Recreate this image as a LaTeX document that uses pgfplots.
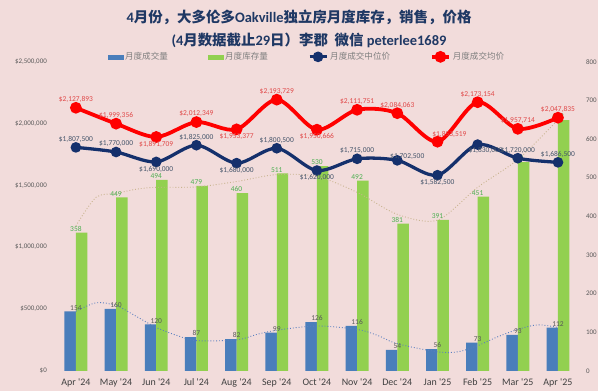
\documentclass[border=0pt]{standalone}
\usepackage{fontspec}
\usepackage{pgfplots}
\pgfplotsset{compat=1.18}
\setmainfont{Carlito}
\newfontfamily\cjk{Noto Sans CJK SC}
\definecolor{bg}{HTML}{F2DCDB}
\definecolor{barblue}{HTML}{4A7EBB}
\definecolor{bargreen}{HTML}{92D050}
\definecolor{navy}{HTML}{15306C}
\definecolor{lred}{HTML}{FF0000}
\definecolor{titleblue}{HTML}{1F3864}
\definecolor{tickgrey}{HTML}{595959}
\definecolor{catgrey}{HTML}{404040}
\definecolor{redlab}{HTML}{E04848}
\definecolor{navylab}{HTML}{44546A}
\definecolor{greenlab}{HTML}{4CAF50}
\definecolor{trendtan}{HTML}{C9B48F}
\definecolor{trendblue}{HTML}{5B7FC0}
\definecolor{legendgrey}{HTML}{7F7F7F}
\tikzset{lab/.style={font=\fontsize{7.5}{7.5}\selectfont, inner sep=1pt}}
\pgfplotsset{
  geom/.style={at={(56pt,20pt)}, anchor=south west, scale only axis,
    width=524pt, height=310pt, xmin=-0.5, xmax=12.5,
    axis line style={draw=none}, tick style={draw=none}, clip=false,
    /pgf/number format/assume math mode=true},
}
\begin{document}
\begin{tikzpicture}[x=1pt,y=1pt]
\fill[bg] (0,0) rectangle (600,392);
\node[font=\fontsize{14.5}{16}\selectfont\bfseries, text=titleblue] at (300,375)
  {4{\cjk 月份，大多伦多}Oakville{\cjk 独立房月度库存，销售，价格}};
\node[font=\fontsize{14.5}{16}\selectfont\bfseries, text=titleblue] at (310,351)
  {(4{\cjk 月数据截止}29{\cjk 日）李郡\ \ 微信} peterlee1689};

\begin{axis}[geom, ymin=0, ymax=800,
  axis y line*=right, axis x line*=bottom,
  xtick={0,...,12},
  xticklabels={Apr \textquotesingle24, May \textquotesingle24, Jun \textquotesingle24, Jul \textquotesingle24, Aug \textquotesingle24, Sep \textquotesingle24, Oct \textquotesingle24, Nov \textquotesingle24, Dec \textquotesingle24, Jan \textquotesingle25, Feb \textquotesingle25, Mar \textquotesingle25, Apr \textquotesingle25},
  xticklabel style={font=\fontsize{10}{10}\selectfont, text=catgrey, yshift=-4pt},
  ytick={0,100,...,800},
  yticklabel style={font=\fontsize{7}{7}\selectfont, text=tickgrey, anchor=west, xshift=4.5pt},
]
\addplot[ybar, bar width=11.5pt, bar shift=-5.75pt, fill=barblue, draw=none,
  nodes near coords, every node near coord/.append style={lab, text=tickgrey}]
  coordinates {(0,154)(1,160)(2,120)(3,87)(4,82)(5,99)(6,126)(7,116)(8,54)(9,56)(10,73)(11,93)(12,112)};
\addplot[ybar, bar width=11.5pt, bar shift=5.75pt, fill=bargreen, draw=none,
  nodes near coords, every node near coord/.append style={lab, text=greenlab}]
  coordinates {(0,358)(1,449)(2,494)(3,479)(4,460)(5,511)(6,530)(7,492)(8,381)(9,391)(10,451)(11,540)(12,649)};
% trendlines
\addplot[smooth, dotted, trendblue, line width=0.9pt]
  coordinates {(0,154)(0.5,176)(1,169)(1.5,141)(2,112)(2.5,92)(3,78)(4,80)(4.5,94)(5,105)(6,116)(7,107)(7.5,92)(8,70)(9,49)(9.5,49)(10,65)(10.5,88)(11,107)(11.5,119)(12,112)};
\addplot[smooth, dotted, trendtan, line width=0.9pt]
  coordinates {(0,375)(0.5,449)(1,459)(1.5,470)(2,475)(3,476)(4,490)(5,508)(6,503)(7,462)(8,405)(9,390)(10,475)(11,547)(12,650)};
\end{axis}

\begin{axis}[geom, ymin=0, ymax=2500000,
  axis y line*=left, axis x line=none,
  scaled y ticks=false,
  ytick={0,500000,1000000,1500000,2000000,2500000},
  yticklabels={{\$0},{\$500,000},{\$1,000,000},{\$1,500,000},{\$2,000,000},{\$2,500,000}},
  yticklabel style={font=\fontsize{7}{7}\selectfont, text=tickgrey, anchor=east, xshift=-5.5pt},
  legend style={at={(0.481,1.016)}, anchor=center, draw=none, fill=none,
    font=\cjk\fontsize{8.6}{9}\selectfont, text=legendgrey, legend columns=4,
    /tikz/every even column/.append style={column sep=38pt}},
  legend cell align=left,
]
\addlegendimage{legend image code/.code={\fill[barblue] (0pt,-2pt) rectangle (15pt,2pt);}}
\addlegendentry{月度成交量}
\addlegendimage{legend image code/.code={\fill[bargreen] (0pt,-2pt) rectangle (15pt,2pt);}}
\addlegendentry{月度库存量}
\addplot[smooth, line width=3.3pt, color=navy, mark=*, mark size=3.6pt, mark options={draw=none, fill=navy}]
  coordinates {(0,1807500)(1,1770000)(2,1690000)(3,1825000)(4,1680000)(5,1800500)(6,1620000)(7,1715000)(8,1702500)(9,1582500)(10,1830000)(11,1720000)(12,1686500)};
\addlegendentry{月度成交中位价}
\addplot[smooth, line width=3.8pt, color=lred, mark=*, mark size=3.9pt, mark options={draw=none, fill=lred}]
  coordinates {(0,2127893)(1,1999356)(2,1891709)(3,2012349)(4,1953377)(5,2193729)(6,1950666)(7,2111751)(8,2084063)(9,1853519)(10,2173154)(11,1957714)(12,2047835)};
\addlegendentry{月度成交均价}
% labels: median
\addplot[draw=none, mark=none, forget plot, point meta=explicit symbolic, nodes near coords,
  every node near coord/.append style={lab, text=navylab, anchor=south, yshift=4pt}]
  coordinates {(0,1807500)[\$1,807,500] (1,1770000)[\$1,770,000] (3,1825000)[\$1,825,000] (5,1800500)[\$1,800,500] (7,1715000)[\$1,715,000] (11,1720000)[\$1,720,000] (12,1686500)[\$1,686,500]};
\addplot[draw=none, mark=none, forget plot, point meta=explicit symbolic, nodes near coords,
  every node near coord/.append style={lab, text=navylab, anchor=south, xshift=10pt, yshift=0pt}]
  coordinates {(8,1702500)[\$1,702,500]};
\addplot[draw=none, mark=none, forget plot, point meta=explicit symbolic, nodes near coords,
  every node near coord/.append style={lab, text=navylab, anchor=north, yshift=-3pt}]
  coordinates {(2,1690000)[\$1,690,000] (4,1680000)[\$1,680,000] (6,1620000)[\$1,620,000] (9,1582500)[\$1,582,500]};
\addplot[draw=none, mark=none, forget plot, point meta=explicit symbolic, nodes near coords,
  every node near coord/.append style={lab, text=navylab, anchor=north, xshift=8pt, yshift=-2pt}]
  coordinates {(10,1830000)[\$1,830,000]};
% labels: average
\addplot[draw=none, mark=none, forget plot, point meta=explicit symbolic, nodes near coords,
  every node near coord/.append style={lab, text=redlab, anchor=south, yshift=4pt}]
  coordinates {(0,2127893)[\$2,127,893] (1,1999356)[\$1,999,356] (3,2012349)[\$2,012,349] (5,2193729)[\$2,193,729] (7,2111751)[\$2,111,751] (8,2084063)[\$2,084,063] (10,2173154)[\$2,173,154] (11,1957714)[\$1,957,714] (12,2047835)[\$2,047,835]};
\addplot[draw=none, mark=none, forget plot, point meta=explicit symbolic, nodes near coords,
  every node near coord/.append style={lab, text=redlab, anchor=south, xshift=12pt, yshift=3pt}]
  coordinates {(9,1853519)[\$1,853,519]};
\addplot[draw=none, mark=none, forget plot, point meta=explicit symbolic, nodes near coords,
  every node near coord/.append style={lab, text=redlab, anchor=north, yshift=-3pt}]
  coordinates {(2,1891709)[\$1,891,709] (4,1953377)[\$1,953,377] (6,1950666)[\$1,950,666]};
\end{axis}
\end{tikzpicture}
\end{document}
